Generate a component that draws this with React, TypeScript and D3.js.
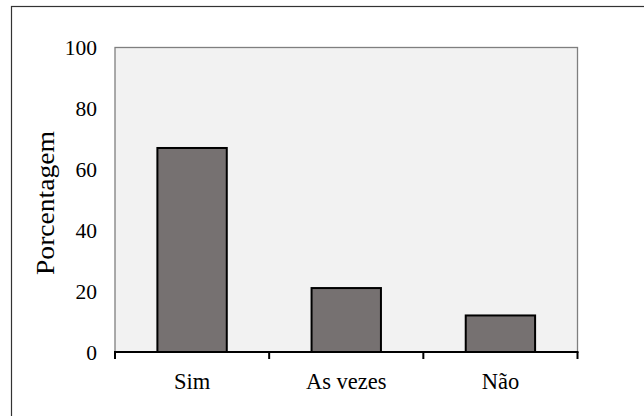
import React from "react";
import * as d3 from "d3";

const categories = ["Sim", "As vezes", "Não"];
const values = [67, 21, 12];
const yTicks = [0, 20, 40, 60, 80, 100];
const yTitle = "Porcentagem";

export default function App() {
  const W = 644, H = 416;
  const m = { left: 115, right: 577.5, top: 47.5, bottom: 352 };
  const x = d3.scaleBand<string>().domain(categories).range([m.left, m.right]).paddingInner(0.55).paddingOuter(0.275);
  const band = d3.scaleBand<string>().domain(categories).range([m.left, m.right]);
  const y = d3.scaleLinear().domain([0, 100]).range([m.bottom, m.top]);
  const font = "'Liberation Serif', 'Times New Roman', serif";
  const boundaries = [m.left, ...categories.map((c) => (band(c) as number) + band.bandwidth())];
  return (
    <svg width={W} height={H} style={{ position: "absolute", left: 0, top: 0 }} fontFamily={font}>
      <rect x={0} y={0} width={W} height={H} fill="#fff" />
      <rect x={11.5} y={6.5} width={W} height={H} fill="none" stroke="#333" strokeWidth={1.2} />
      <rect x={m.left} y={m.top} width={m.right - m.left} height={m.bottom - m.top} fill="#f2f2f2" stroke="#7f7f7f" strokeWidth={1.3} />
      {categories.map((c, i) => (
        <rect key={c} x={x(c)} y={y(values[i])} width={x.bandwidth()} height={y(0) - y(values[i])} fill="#767171" stroke="#000" strokeWidth={2} />
      ))}
      <line x1={m.left - 1} x2={m.right + 1} y1={y(0)} y2={y(0)} stroke="#000" strokeWidth={2} />
      {boundaries.map((b, i) => (
        <line key={i} x1={b} x2={b} y1={y(0)} y2={y(0) + 7} stroke="#000" strokeWidth={2} />
      ))}
      {yTicks.map((t) => (
        <text key={t} x={97} y={y(t)} dy="0.35em" textAnchor="end" fontSize={21.5} fill="#000">{t}</text>
      ))}
      {categories.map((c) => (
        <text key={c} x={(band(c) as number) + band.bandwidth() / 2} y={389} textAnchor="middle" fontSize={22.5} fill="#000">{c}</text>
      ))}
      <text transform={`translate(53.5, 203) rotate(-90)`} textAnchor="middle" fontSize={25.5} textLength={144} lengthAdjust="spacingAndGlyphs" fill="#000">{yTitle}</text>
    </svg>
  );
}
